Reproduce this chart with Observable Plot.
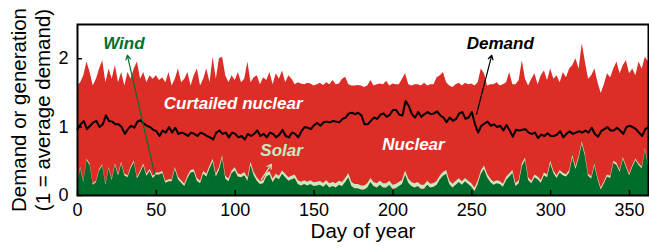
<!DOCTYPE html>
<html><head><meta charset="utf-8">
<script src="https://cdn.jsdelivr.net/npm/d3@7"></script>
<script src="https://cdn.jsdelivr.net/npm/@observablehq/plot@0.6"></script>
<style>body{margin:0;background:#fff} svg{display:block}</style>
</head><body><div id="chart"></div>
<script>
// Sampled every 2 days, day 0 .. 362
const stepDays = 2;

// Top of the red (nuclear incl. curtailed) area
const nuclearTop = [
 1.60,1.65,1.75,1.95,1.80,1.60,1.70,1.85,1.97,1.65,
 1.85,1.70,1.90,1.65,1.80,1.60,1.80,1.70,1.85,1.95,
 1.70,1.80,1.65,1.75,1.70,1.75,1.68,1.72,1.65,1.80,
 1.60,1.70,1.85,1.65,1.70,1.80,1.60,1.75,1.85,1.60,
 1.70,1.85,1.65,2.02,1.70,2.00,2.02,1.75,1.65,1.75,
 1.68,1.80,1.65,1.70,1.95,1.65,1.72,1.75,1.62,1.72,
 1.68,1.80,1.62,1.78,1.70,1.82,1.65,1.75,1.70,1.62,
 1.65,1.63,1.62,1.64,1.63,1.60,1.62,1.64,1.61,1.65,
 1.62,1.68,1.62,1.63,1.70,1.73,1.62,1.60,1.60,1.61,
 1.60,1.58,
 1.60,1.68,1.60,1.62,1.63,1.62,1.67,1.60,1.63,1.62,
 1.62,1.70,1.78,1.62,1.60,1.62,1.62,1.60,1.64,1.60,
 1.62,1.62,1.72,1.75,1.80,1.65,1.60,1.58,1.62,1.64,
 1.60,1.64,1.62,1.63,1.60,1.65,1.85,1.78,1.60,1.62,
 1.62,1.65,1.60,1.62,1.65,1.80,1.62,1.62,1.68,1.97,
 1.70,1.60,1.70,1.78,1.62,1.75,1.82,1.68,1.85,1.70,
 1.75,1.65,1.80,1.72,1.85,1.90,2.00,1.85,2.22,1.95,
 1.70,1.75,1.85,1.65,1.49,1.62,1.78,1.72,1.85,1.95,
 1.78,1.90,1.97,1.78,1.85,1.75,1.95,1.85,2.02,1.95
];

const wind = [
 0.17,0.39,0.19,0.51,0.44,0.15,0.19,0.36,0.43,0.15,
 0.39,0.22,0.44,0.29,0.46,0.29,0.26,0.39,0.48,0.24,
 0.33,0.43,0.28,0.35,0.25,0.30,0.30,0.32,0.18,0.20,
 0.20,0.38,0.23,0.18,0.13,0.25,0.33,0.34,0.21,0.17,
 0.31,0.27,0.39,0.49,0.27,0.37,0.54,0.24,0.20,0.32,
 0.36,0.27,0.26,0.29,0.21,0.44,0.29,0.21,0.16,0.17,
 0.27,0.30,0.19,0.26,0.23,0.31,0.26,0.21,0.23,0.25,
 0.16,0.14,0.16,0.14,0.16,0.13,0.14,0.15,0.12,0.16,
 0.11,0.13,0.11,0.15,0.13,0.19,0.26,0.13,0.10,0.10,
 0.08,0.08,
 0.11,0.19,0.13,0.11,0.15,0.11,0.11,0.15,0.09,0.10,
 0.13,0.16,0.30,0.18,0.13,0.11,0.13,0.09,0.09,0.15,
 0.11,0.12,0.15,0.23,0.28,0.31,0.16,0.11,0.15,0.19,
 0.15,0.20,0.16,0.12,0.06,0.16,0.31,0.38,0.26,0.19,
 0.15,0.17,0.16,0.12,0.22,0.27,0.32,0.13,0.17,0.42,
 0.51,0.22,0.17,0.26,0.23,0.18,0.29,0.26,0.46,0.32,
 0.25,0.33,0.29,0.27,0.33,0.55,0.38,0.54,0.75,0.57,
 0.28,0.24,0.43,0.23,0.08,0.17,0.27,0.25,0.47,0.44,
 0.34,0.53,0.41,0.29,0.41,0.51,0.44,0.39,0.66,0.44
];

const solar = [
 0.02,0.02,0.02,0.02,0.02,0.02,0.02,0.02,0.02,0.02,
 0.02,0.02,0.025,0.025,0.025,0.025,0.025,0.025,0.025,0.025,
 0.03,0.03,0.03,0.03,0.03,0.03,0.03,0.03,0.03,0.03,
 0.03,0.03,0.035,0.035,0.035,0.035,0.035,0.035,0.04,0.04,
 0.04,0.04,0.04,0.04,0.04,0.04,0.04,0.04,0.04,0.04,
 0.045,0.045,0.045,0.045,0.045,0.045,0.045,0.045,0.045,0.045,
 0.05,0.05,0.05,0.05,0.05,0.05,0.05,0.05,0.05,0.05,
 0.055,0.055,0.055,0.055,0.055,0.055,0.055,0.055,0.055,0.055,
 0.06,0.06,0.06,0.06,0.06,0.06,0.06,0.06,0.06,0.06,
 0.06,0.06,
 0.06,0.06,0.06,0.06,0.06,0.06,0.06,0.06,0.06,0.06,
 0.06,0.06,0.06,0.06,0.06,0.06,0.06,0.06,0.06,0.06,
 0.055,0.055,0.055,0.055,0.055,0.055,0.055,0.055,0.055,0.055,
 0.05,0.05,0.05,0.05,0.05,0.05,0.05,0.05,0.05,0.05,
 0.045,0.045,0.045,0.045,0.045,0.045,0.045,0.045,0.045,0.045,
 0.04,0.04,0.04,0.04,0.04,0.04,0.04,0.04,0.04,0.04,
 0.035,0.035,0.035,0.035,0.035,0.035,0.035,0.035,0.035,0.035,
 0.03,0.03,0.03,0.03,0.03,0.03,0.03,0.03,0.03,0.03,
 0.025,0.025,0.025,0.025,0.025,0.025,0.025,0.025,0.025,0.025
];

const demand = [
 0.97,1.04,1.09,0.97,1.02,1.07,1.09,1.00,1.04,1.17,
 1.09,1.08,1.04,1.04,1.00,0.90,0.97,1.02,0.99,1.08,
 1.10,1.05,1.02,1.00,0.96,0.94,0.87,0.95,0.92,1.00,
 0.92,0.99,0.90,0.92,0.90,0.87,0.92,0.90,0.87,0.92,
 0.90,0.87,0.85,0.82,0.92,0.95,0.90,0.92,0.85,0.92,
 0.90,0.85,0.87,0.82,0.90,0.87,0.90,0.95,0.87,0.90,
 0.85,0.92,0.90,0.85,0.89,0.96,0.87,0.85,0.92,0.90,
 0.85,0.94,1.00,0.99,0.97,1.03,1.06,1.02,1.07,1.08,
 1.07,1.09,1.08,1.07,1.12,1.14,1.20,1.21,1.19,1.21,
 1.17,1.04,
 1.04,1.09,1.14,1.12,1.18,1.20,1.15,1.18,1.25,1.25,
 1.18,1.17,1.38,1.31,1.19,1.14,1.22,1.15,1.19,1.22,
 1.19,1.20,1.23,1.17,1.14,1.07,1.14,1.09,1.12,1.20,
 1.22,1.12,1.14,1.22,1.04,0.92,1.02,1.05,1.08,1.02,
 1.04,1.00,1.02,0.95,1.03,0.95,0.86,0.96,0.95,0.96,
 0.97,0.92,0.90,0.92,0.84,0.89,0.87,0.91,0.87,0.87,
 0.89,0.94,0.85,0.90,0.94,0.90,0.92,0.94,0.92,0.95,
 0.92,0.99,0.90,0.86,0.94,0.97,1.00,0.95,0.95,0.99,
 0.95,0.90,1.00,1.02,1.00,0.97,0.92,0.87,0.97,1.00
];

const xTicks = [0, 50, 100, 150, 200, 250, 300, 350];
const yTicks = [0, 1, 2];
const xLabel = "Day of year";
const yLabel = "Demand or generation\n(1 = average demand)";

const labelTexts = ["Wind", "Curtailed nuclear", "Solar", "Nuclear", "Demand"];
const labelDays = [29.4, 98.7, 129.4, 213, 268];
const labelValues = [2.22, 1.34, 0.65, 0.74, 2.22];
const labelColors = ["#00702f", "#ffffff", "#c7e9c0", "#ffffff", "#000000"];

const arrowFromDay = [49, 116.6, 253];
const arrowFromValue = [0.31, 0.235, 1.19];
const arrowToDay = [31.6, 122.9, 262.6];
const arrowToValue = [2.05, 0.456, 2.05];
const arrowColors = ["#00702f", "#c7e9c0", "#000000"];

const RED = "#dc2e27", DARK_GREEN = "#006d2c", LIGHT_GREEN = "#c7e9c0";

const days = nuclearTop.map((_, i) => i * stepDays);
const topRows = days.map((d, i) => ({day: d, value: nuclearTop[i]}));
const demandRows = days.map((d, i) => ({day: d, value: demand[i]}));
const renewRows = [];
days.forEach((d, i) => {
  renewRows.push({day: d, source: "Wind", value: wind[i]});
  renewRows.push({day: d, source: "Solar", value: solar[i]});
});

const textMarks = labelTexts.map((t, i) => Plot.text([{day: labelDays[i], value: labelValues[i], t}], {
  x: "day", y: "value", text: "t", fill: labelColors[i],
  fontSize: 17, fontWeight: "bold", fontStyle: "italic"
}));
const arrowMarks = arrowFromDay.map((_, i) => Plot.arrow([{x1: arrowFromDay[i], y1: arrowFromValue[i], x2: arrowToDay[i], y2: arrowToValue[i]}], {
  x1: "x1", y1: "y1", x2: "x2", y2: "y2", stroke: arrowColors[i], strokeWidth: 1.2, headLength: 6
}));

const chart = Plot.plot({
  width: 649, height: 252,
  marginLeft: 77, marginRight: 1, marginTop: 24, marginBottom: 57,
  style: {fontFamily: "'Liberation Sans', Arial, sans-serif", fontSize: "18px", color: "black", background: "white"},
  x: {domain: [0, 362]},
  y: {domain: [0, 2.5]},
  color: {domain: ["Wind", "Solar"], range: [DARK_GREEN, LIGHT_GREEN]},
  marks: [
    Plot.areaY(topRows, {x: "day", y: "value", fill: RED}),
    Plot.areaY(renewRows, {x: "day", y: "value", fill: "source", order: ["Wind", "Solar"]}),
    Plot.lineY(demandRows, {x: "day", y: "value", stroke: "black", strokeWidth: 2}),
    ...arrowMarks,
    ...textMarks,
    Plot.axisX({ticks: xTicks, tickFormat: d3.format("d"), tickSize: -5, tickPadding: 13, label: null, fontSize: 18, strokeWidth: 1.5}),
    Plot.axisY({ticks: yTicks, tickFormat: d3.format("d"), tickSize: -5, tickPadding: 14, label: null, fontSize: 18, strokeWidth: 1.5}),
    Plot.frame({stroke: "black", strokeWidth: 2}),
    Plot.text([xLabel], {frameAnchor: "bottom", dy: 42, fontSize: 20.5}),
    Plot.text([yLabel], {frameAnchor: "left", textAnchor: "middle", dx: -47, rotate: -90, fontSize: 20.5, lineHeight: 1.15})
  ]
});
document.getElementById("chart").append(chart);
</script>
</body></html>
